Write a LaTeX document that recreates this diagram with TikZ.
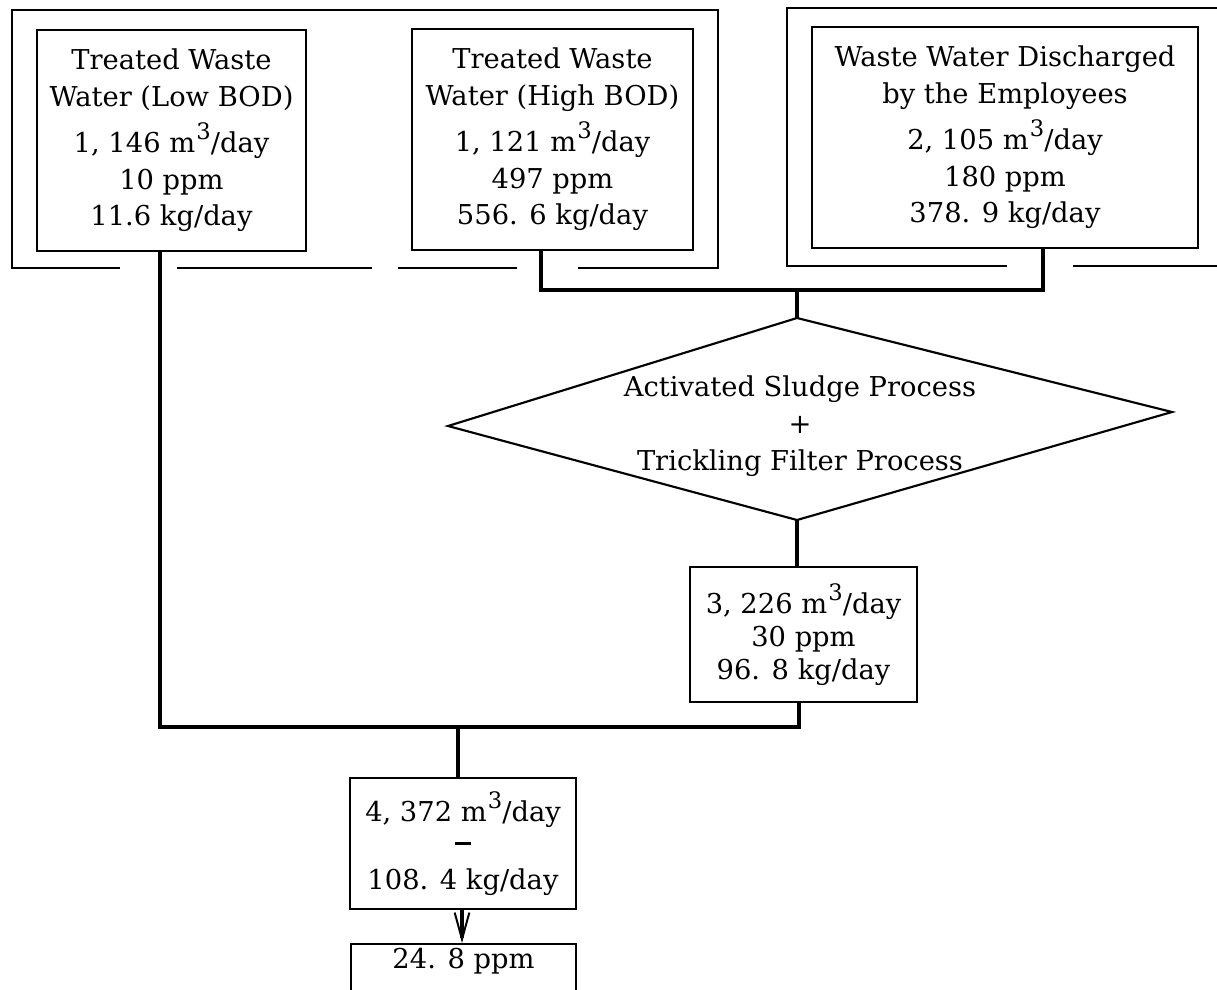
\documentclass[tikz,border=0pt]{standalone}
\usepackage{fontspec}
\setmainfont{DejaVu Serif}
\usetikzlibrary{arrows.meta}
\newcommand\mcube{m\kern0.04em\raisebox{0.48em}{\fontsize{17}{17}\selectfont 3}}
\begin{document}
\begin{tikzpicture}[x=0.75pt,y=-0.75pt,
  txt/.style={font=\fontsize{20.5}{27.5}\selectfont},
  box/.style={draw, line width=1.6pt, align=center, inner sep=0pt, txt},
  shapeline/.style={line width=1.6pt, line join=miter},
  conn/.style={line width=2.3pt},
  frame/.style={line width=1.3pt},
  flowarrow/.style={conn, -{Straight Barb[length=20pt,width=11pt,line width=1.5pt]}}]
\path[use as bounding box, fill=white] (0,0) rectangle (1217,989);
\clip (0,0) rectangle (1217,989);

% outer frames
\draw[frame] (120,268) -- (12,268) -- (12,10) -- (718,10) -- (718,268) -- (578,268);
\draw[frame] (177,268) -- (372,268);
\draw[frame] (398,268) -- (517,268);
\draw[frame] (1007,266) -- (787,266) -- (787,8) -- (1230,8);
\draw[frame] (1073,266) -- (1230,266);

% boxes
\node[box, minimum width=201.75pt, minimum height=165.75pt] (b1) at (171.5,140.5)
  {Treated Waste\\Water (Low BOD)\\[7pt]1, 146 \mcube/day\\10 ppm\\11.6 kg/day};
\node[box, minimum width=210.75pt, minimum height=165.75pt] (b2) at (552.5,139.5)
  {Treated Waste\\Water (High BOD)\\[7pt]1, 121 \mcube/day\\497 ppm\\556. 6 kg/day};
\node[box, minimum width=289.5pt, minimum height=165.75pt] (b3) at (1005,137.5)
  {Waste Water Discharged\\by the Employees\\[7pt]2, 105 \mcube/day\\180 ppm\\378. 9 kg/day};

% diamond
\coordinate (dT) at (797,318);
\coordinate (dB) at (797,520);
\coordinate (dL) at (448,426);
\coordinate (dR) at (1172,412);
\draw[shapeline] (dT) -- (dR) -- (dB) -- (dL) -- cycle;
\node[txt, align=center, inner sep=0pt] (dtext) at (800,426)
  {Activated Sludge Process\\+\\Trickling Filter Process};

\node[box, minimum width=170.25pt, minimum height=101.25pt,
      font=\fontsize{20.5}{24.75}\selectfont] (b4) at (803.5,634.5)
  {3, 226 \mcube/day\\30 ppm\\96. 8 kg/day};
\node[box, minimum width=169.5pt, minimum height=98.25pt] (b5) at (463,843.5)
  {4, 372 \mcube/day\\[-4pt]\rule[6pt]{12pt}{2pt}\\108. 4 kg/day};
\node[box, minimum width=168.75pt, anchor=north, text height=14.5pt, text depth=60pt,
      inner ysep=3.5pt] (b6) at (463.5,943) {24. 8 ppm};

% connectors
\coordinate (tL) at (541,290);
\coordinate (tR) at (1043,290);
\coordinate (tM) at (797,290);
\draw[conn] (b2.south -| tL) -- (tL) -- (tR) -- (b3.south -| tR);
\draw[conn] (tM) -- (dT);
\draw[conn] (dB) -- (b4.north -| dB);

\coordinate (jL) at (160,727);
\coordinate (jR) at (799,727);
\coordinate (jM) at (458,727);
\draw[conn] (b1.south -| jL) -- (jL) -- (jR) -- (b4.south -| jR);
\draw[conn] (jM) -- (b5.north -| jM);

\coordinate (aX) at (462,0);
\draw[flowarrow] (b5.south -| aX) -- (b6.north -| aX);
\end{tikzpicture}
\end{document}
